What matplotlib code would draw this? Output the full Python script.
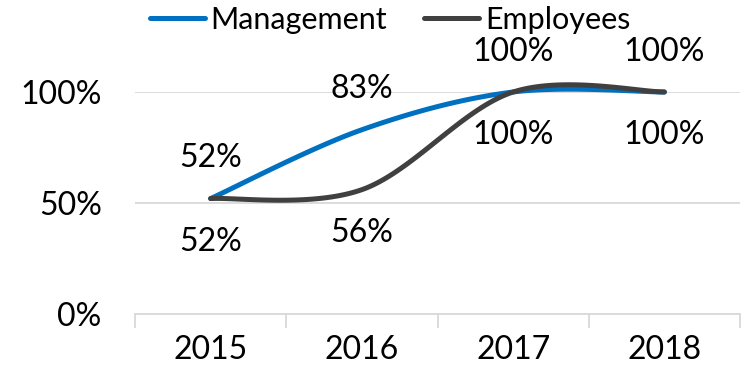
import numpy as np
import matplotlib.pyplot as plt
from matplotlib.ticker import FixedLocator, PercentFormatter

years = ["2015", "2016", "2017", "2018"]
management = [0.52, 0.83, 1.00, 1.00]
employees = [0.52, 0.56, 1.00, 1.00]

BLUE = "#0070C0"
DARK = "#404040"
GRID = "#D9D9D9"

plt.rcParams['font.family'] = ['Lato', 'DejaVu Sans']


def smooth(xs, ys, n=40):
    # cubic bezier through the points, catmull-rom style control points
    xs = np.asarray(xs, float)
    ys = np.asarray(ys, float)
    px = np.concatenate([[xs[0]], xs, [xs[-1]]])
    py = np.concatenate([[ys[0]], ys, [ys[-1]]])
    outx, outy = [], []
    t = np.linspace(0, 1, n)
    for i in range(1, len(px) - 2):
        p0 = np.array([px[i], py[i]])
        p3 = np.array([px[i + 1], py[i + 1]])
        p1 = p0 + (p3 - np.array([px[i - 1], py[i - 1]])) / 6
        p2 = p3 - (np.array([px[i + 2], py[i + 2]]) - p0) / 6
        b = ((1 - t) ** 3)[:, None] * p0 + (3 * (1 - t) ** 2 * t)[:, None] * p1 \
            + (3 * (1 - t) * t ** 2)[:, None] * p2 + (t ** 3)[:, None] * p3
        outx.extend(b[:, 0])
        outy.extend(b[:, 1])
    return np.array(outx), np.array(outy)


fig = plt.figure(figsize=(7.43, 3.79), dpi=100)
ax = fig.add_axes([135 / 743, 65 / 379, 605 / 743, 222 / 379])

x = np.arange(len(years))
for vals, color, name in [(management, BLUE, "Management"), (employees, DARK, "Employees")]:
    sx, sy = smooth(x, vals)
    ax.plot(sx, sy, color=color, lw=3.6, solid_capstyle="round", label=name,
            clip_on=False, zorder=3)

FS = 23
for i, v in enumerate(management):
    ax.annotate(f"{v:.0%}", (x[i], v), xytext=(0, 29), textcoords="offset points",
                ha="center", va="center", fontsize=FS)
for i, v in enumerate(employees):
    ax.annotate(f"{v:.0%}", (x[i], v), xytext=(0, -31), textcoords="offset points",
                ha="center", va="center", fontsize=FS)

ax.set_xlim(-0.5, len(years) - 0.5)
ax.set_ylim(0, 1)
ax.yaxis.set_major_locator(FixedLocator([0, 0.5, 1.0]))
ax.yaxis.set_major_formatter(PercentFormatter(1.0, decimals=0))
ax.set_xticks(x)
ax.set_xticklabels(years)
ax.xaxis.set_minor_locator(FixedLocator(np.arange(-0.5, len(years), 1.0)))

ax.grid(axis="y", color=GRID, lw=1.3)
ax.set_axisbelow(True)
for s in ["top", "right", "left"]:
    ax.spines[s].set_visible(False)
ax.spines["bottom"].set_color(GRID)
ax.spines["bottom"].set_linewidth(1.3)

ax.tick_params(axis="y", length=0, pad=24, labelsize=FS)
ax.tick_params(axis="x", which="major", length=0, pad=15, labelsize=FS)
ax.tick_params(axis="x", which="minor", length=10, width=1.3, color=GRID)

fig.legend(loc="center", bbox_to_anchor=(390 / 743, 1 - 20 / 379), ncol=2, frameon=False,
           fontsize=22, handlelength=1.8, handletextpad=0.2, columnspacing=1.2,
           borderpad=0, borderaxespad=0)

fig.savefig("out.png", dpi=100)
